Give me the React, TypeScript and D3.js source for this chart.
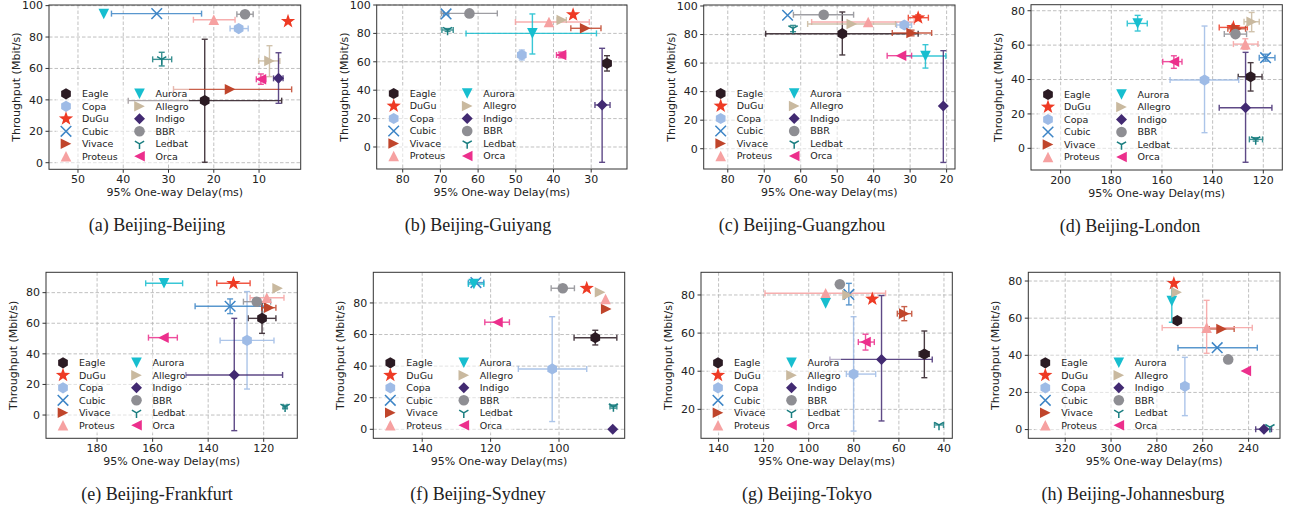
import React from 'react';
import * as d3 from 'd3';

// row: delay, throughput, delayLo, delayHi, tputLo, tputHi
type Row = [number, number, number, number, number, number];

const algorithms = ['Eagle', 'DuGu', 'Copa', 'Cubic', 'Vivace', 'Proteus', 'Aurora', 'Allegro', 'Indigo', 'BBR', 'Ledbat', 'Orca'];
const colors = ['#2b1b23', '#ee3a24', '#9ebbe6', '#3d85c6', '#c0452b', '#f6a1a1', '#17becf', '#c9b99f', '#422a72', '#8e8e93', '#1a7e80', '#ec2f8c'];
const shapes = ['hexagon', 'star', 'hexagon', 'x', 'right', 'up', 'down', 'right', 'diamond', 'circle', 'tri', 'left'];

const legendOrderA = ['Eagle', 'Copa', 'DuGu', 'Cubic', 'Vivace', 'Proteus', 'Aurora', 'Allegro', 'Indigo', 'BBR', 'Ledbat', 'Orca'];
const legendOrder = ['Eagle', 'DuGu', 'Copa', 'Cubic', 'Vivace', 'Proteus', 'Aurora', 'Allegro', 'Indigo', 'BBR', 'Ledbat', 'Orca'];

const beijingBeijing: Row[] = [
  [22, 39.5, 5, 38.9, 0.3, 78.6],
  [3.6, 90, 3.6, 3.6, 90, 90],
  [14.5, 85.4, 12.4, 16.4, 83.6, 87.2],
  [32.6, 94.9, 22.7, 42.6, 94.9, 94.9],
  [16.4, 46.7, 2.8, 28.9, 46.7, 46.7],
  [20, 91, 15.3, 24.5, 91, 91],
  [44.3, 94.7, 44.3, 44.3, 94.7, 94.7],
  [7.7, 64.8, 5.4, 10.1, 54.8, 74.5],
  [5.7, 53.7, 4.7, 6.8, 37.8, 70],
  [13.1, 94.5, 11.3, 14.9, 94.5, 94.5],
  [31.5, 65.8, 29.3, 33.5, 61.6, 70.3],
  [9.6, 53.1, 8.5, 10.6, 49.9, 56.5],
];
const beijingGuiyang: Row[] = [
  [25.8, 58.9, 24.8, 26.8, 53.5, 64.3],
  [34.8, 93.2, 34.8, 34.8, 93.2, 93.2],
  [48.4, 64.8, 47.6, 49.2, 61.3, 68.3],
  [68.5, 93.7, 67.8, 69.2, 93.7, 93.7],
  [31.6, 83.6, 27.4, 35.4, 83.6, 83.6],
  [41.2, 88, 30.5, 50.1, 88, 88],
  [45.6, 80, 28.6, 63.2, 65.5, 93.7],
  [37.8, 89.4, 36.6, 39, 89.4, 89.4],
  [27.1, 29.6, 25, 29, -10.8, 69.5],
  [62.3, 94.1, 54.9, 69.7, 94.1, 94.1],
  [68.1, 82.4, 66.6, 69.6, 81.4, 83.4],
  [38, 64.8, 36.8, 39.2, 62.8, 66.8],
];
const beijingGuangzhou: Row[] = [
  [48.6, 80.6, 27.8, 69.6, 65.7, 95.8],
  [27.8, 91.8, 25, 30.5, 89.8, 93.8],
  [31.6, 86.7, 29.6, 33.7, 86.7, 86.7],
  [63.6, 93.5, 63.6, 63.6, 93.5, 93.5],
  [29.6, 81.1, 24.1, 34.9, 79.1, 83.1],
  [41.5, 88.8, 28.9, 57, 88.8, 88.8],
  [25.8, 65, 20.2, 31.4, 56.5, 72.9],
  [46, 87.4, 34, 58.1, 87.4, 87.4],
  [20.9, 29.9, 20.9, 20.9, -9.6, 68.7],
  [53.7, 93.9, 45.5, 62, 93.9, 93.9],
  [62.1, 84.3, 62.1, 62.1, 82, 86.4],
  [32.5, 65.2, 29.6, 36.3, 65.2, 65.2],
];
const beijingLondon: Row[] = [
  [125, 41.6, 120.5, 129.9, 33.3, 49.8],
  [131.8, 70.3, 126.3, 137.4, 70.3, 70.3],
  [143.2, 39.7, 129.7, 156.8, 9.1, 71.1],
  [119.1, 52.7, 115.4, 121.6, 50.7, 54.7],
  [130.5, 69.5, 127, 134, 68, 71],
  [127.1, 60.6, 122.1, 131.8, 57.5, 63.7],
  [169.6, 72.6, 165.8, 173.7, 68.2, 77.3],
  [124.6, 73.6, 121.6, 127.6, 67.8, 79],
  [127, 23.6, 116.6, 137.4, -8.1, 55.8],
  [131, 66.4, 126.6, 135.4, 66.4, 66.4],
  [123, 5.2, 120.3, 125.5, 4.2, 6.2],
  [155.3, 50.4, 152.1, 159.7, 46.5, 53.8],
];
const beijingFrankfurt: Row[] = [
  [120.6, 63.2, 115.6, 125.6, 53.4, 73.5],
  [130.9, 86.1, 124.9, 136.9, 86.1, 86.1],
  [126, 48.8, 116.3, 135.7, 17, 80.7],
  [132.1, 71.1, 119.5, 144.7, 66.3, 75.9],
  [118, 70.2, 115.6, 120.7, 70.2, 70.2],
  [118.9, 76.7, 112.7, 124.9, 76.7, 76.7],
  [155.9, 86.1, 149.2, 162.5, 86.1, 86.1],
  [115, 82.8, 115, 115, 82.8, 82.8],
  [130.6, 26.2, 113.2, 148.1, -10.2, 63.2],
  [122.5, 74.1, 117.5, 127.3, 74.1, 74.1],
  [112.3, 5.4, 111.6, 113, 4.4, 6.4],
  [156.1, 50.6, 151.1, 161.5, 50.6, 50.6],
];
const beijingSydney: Row[] = [
  [89.4, 58, 83.1, 95.6, 53.4, 62.7],
  [91.9, 89.3, 91.9, 91.9, 89.3, 89.3],
  [102, 38.2, 91.9, 111.9, 4.9, 71.3],
  [124.3, 92.9, 122, 126.5, 92.9, 92.9],
  [86.2, 76.2, 86.2, 86.2, 76.2, 76.2],
  [86.4, 82.5, 86.4, 86.4, 82.5, 82.5],
  [124.9, 92, 122, 126.5, 92, 92],
  [88, 86.8, 88, 88, 86.8, 86.8],
  [84.3, 0, 84.3, 84.3, 0, 0],
  [98.9, 89.3, 95.5, 102.3, 89.3, 89.3],
  [84.1, 14.4, 83.1, 85.1, 13.4, 15.4],
  [118, 67.8, 114.5, 121.7, 67.8, 67.8],
];
const beijingTokyo: Row[] = [
  [48.7, 49, 46.5, 51, 36.6, 61.1],
  [71.8, 77.9, 71.8, 71.8, 77.9, 77.9],
  [80.1, 38.5, 70.3, 83.3, 8.6, 68.6],
  [82.2, 80.3, 82.2, 82.2, 74.8, 86.1],
  [57.6, 70.2, 54.3, 60.7, 66.5, 73.9],
  [92.5, 80.9, 65.9, 119.4, 80.9, 80.9],
  [92.5, 75.6, 92.5, 92.5, 75.6, 75.6],
  [82.8, 80, 82.8, 82.8, 80, 80],
  [67.7, 46.2, 45.2, 90.6, 13.9, 79.7],
  [86.2, 85.6, 86.2, 86.2, 85.6, 85.6],
  [42.2, 11.8, 40.2, 44.2, 11.8, 11.8],
  [74.8, 55.3, 70.9, 78, 51.1, 59.4],
];
const beijingJohannesburg: Row[] = [
  [271.1, 58.7, 271.1, 271.1, 58.7, 58.7],
  [272.6, 78.7, 272.6, 272.6, 78.7, 78.7],
  [267.8, 23.3, 267.8, 267.8, 7.5, 38.9],
  [253.7, 44.1, 236.2, 270.8, 44.1, 44.1],
  [251.8, 54.2, 246.3, 257.2, 54.2, 54.2],
  [258.3, 54.9, 238.4, 277.7, 41.1, 69.6],
  [273.5, 69.2, 273.5, 273.5, 57.8, 79.6],
  [271.4, 73.9, 271.4, 271.4, 73.9, 73.9],
  [233.3, 0.2, 230, 236.9, 0.2, 0.2],
  [248.9, 37.8, 248.9, 248.9, 37.8, 37.8],
  [230.7, 1.3, 230.7, 230.7, 1.3, 1.3],
  [241.2, 31.6, 241.2, 241.2, 31.6, 31.6],
];

const xTicksA = [50, 40, 30, 20, 10];
const xTicksB = [80, 70, 60, 50, 40, 30];
const xTicksC = [80, 70, 60, 50, 40, 30, 20];
const xTicksD = [200, 180, 160, 140, 120];
const xTicksE = [180, 160, 140, 120];
const xTicksF = [140, 120, 100];
const xTicksG = [140, 120, 100, 80, 60, 40];
const xTicksH = [320, 300, 280, 260, 240];
const yTicks100 = [0, 20, 40, 60, 80, 100];
const yTicks80 = [0, 20, 40, 60, 80];
const yTicksTokyo = [20, 40, 60, 80];

interface Panel {
  caption: string;
  rows: Row[];
  legend: string[];
  xTicks: number[];
  yTicks: number[];
  xDom: [number, number];
  yDom: [number, number];
  box: [number, number, number, number]; // left, right, top, bottom
  capX: number;
}

const panels: Panel[] = [
  { caption: '(a)  Beijing-Beijing', rows: beijingBeijing, legend: legendOrderA, xTicks: xTicksA, yTicks: yTicks100, xDom: [56.4, 0.8], yDom: [-4.2, 100.4], box: [49, 300.7, 5, 169.3], capX: 157 },
  { caption: '(b)  Beijing-Guiyang', rows: beijingGuiyang, legend: legendOrder, xTicks: xTicksB, yTicks: yTicks100, xDom: [86.9, 20.5], yDom: [-15.5, 100], box: [376.7, 627, 5, 169], capX: 478 },
  { caption: '(c)  Beijing-Guangzhou', rows: beijingGuangzhou, legend: legendOrder, xTicks: xTicksC, yTicks: yTicks100, xDom: [86.6, 17.7], yDom: [-14.2, 100.7], box: [703.7, 955, 5, 169], capX: 802 },
  { caption: '(d)  Beijing-London', rows: beijingLondon, legend: legendOrder, xTicks: xTicksD, yTicks: yTicks80, xDom: [211.7, 112.5], yDom: [-12.6, 83.5], box: [1031, 1282.3, 4.7, 170], capX: 1130 },
  { caption: '(e)  Beijing-Frankfurt', rows: beijingFrankfurt, legend: legendOrder, xTicks: xTicksE, yTicks: yTicks80, xDom: [198.4, 107.9], yDom: [-15.2, 93.3], box: [46, 297.3, 272.3, 438.3], capX: 157 },
  { caption: '(f)  Beijing-Sydney', rows: beijingSydney, legend: legendOrder, xTicks: xTicksF, yTicks: yTicks80, xDom: [154.3, 80.8], yDom: [-5.7, 99.4], box: [373.3, 624.7, 272.3, 438.3], capX: 478 },
  { caption: '(g)  Beijing-Tokyo', rows: beijingTokyo, legend: legendOrder, xTicks: xTicksG, yTicks: yTicksTokyo, xDom: [147.8, 36.3], yDom: [4.8, 91.9], box: [701, 952.3, 272.3, 438.3], capX: 807 },
  { caption: '(h)  Beijing-Johannesburg', rows: beijingJohannesburg, legend: legendOrder, xTicks: xTicksH, yTicks: yTicks80, xDom: [336.1, 226.3], yDom: [-4.7, 84.7], box: [1028.3, 1280, 272.3, 438.3], capX: 1133 },
];

const SANS = 'DejaVu Sans, sans-serif';
const SERIF = 'Liberation Serif, DejaVu Serif, serif';

const starPath = (r: number) => {
  const pts: string[] = [];
  for (let i = 0; i < 10; i++) {
    const rr = i % 2 === 0 ? r : r * 0.4;
    const a = -Math.PI / 2 + (i * Math.PI) / 5;
    pts.push(`${(rr * Math.cos(a)).toFixed(2)},${(rr * Math.sin(a)).toFixed(2)}`);
  }
  return 'M' + pts.join('L') + 'Z';
};
const polyPath = (n: number, r: number, rot: number) => {
  const pts: string[] = [];
  for (let i = 0; i < n; i++) {
    const a = rot + (i * 2 * Math.PI) / n;
    pts.push(`${(r * Math.cos(a)).toFixed(2)},${(r * Math.sin(a)).toFixed(2)}`);
  }
  return 'M' + pts.join('L') + 'Z';
};

function Marker({ shape, color, x, y }: { shape: string; color: string; x: number; y: number }) {
  const r = 5.3;
  const t = `translate(${x},${y})`;
  if (shape === 'circle') return <circle cx={x} cy={y} r={r} fill={color} />;
  if (shape === 'hexagon') return <path transform={t} d={polyPath(6, r + 0.3, -Math.PI / 2)} fill={color} />;
  if (shape === 'star') return <path transform={t} d={starPath(r + 2.2)} fill={color} />;
  if (shape === 'diamond') return <path transform={t} d={polyPath(4, r + 0.2, 0)} fill={color} />;
  if (shape === 'up') return <path transform={t} d={`M0,${-r}L${r},${r}L${-r},${r}Z`} fill={color} />;
  if (shape === 'down') return <path transform={t} d={`M0,${r}L${r},${-r}L${-r},${-r}Z`} fill={color} />;
  if (shape === 'right') return <path transform={t} d={`M${r},0L${-r},${r}L${-r},${-r}Z`} fill={color} />;
  if (shape === 'left') return <path transform={t} d={`M${-r},0L${r},${r}L${r},${-r}Z`} fill={color} />;
  if (shape === 'x')
    return <path transform={t} d={`M${-r},${-r}L${r},${r}M${-r},${r}L${r},${-r}`} stroke={color} strokeWidth={1.5} fill="none" />;
  // tri_down
  return (
    <path transform={t} d={`M0,0L0,${r}M0,0L${-0.87 * r},${-0.5 * r}M0,0L${0.87 * r},${-0.5 * r}`} stroke={color} strokeWidth={1.5} fill="none" />
  );
}

function Chart({ p, idx }: { p: Panel; idx: number }) {
  const [left, right, top, bottom] = p.box;
  const x = d3.scaleLinear().domain(p.xDom).range([left, right]);
  const y = d3.scaleLinear().domain(p.yDom).range([bottom, top]);
  const clip = `clip${idx}`;
  const cap = 3;
  const legX = left + 17;
  const legRow0 = bottom - 75.5;
  return (
    <g>
      <defs>
        <clipPath id={clip}>
          <rect x={left} y={top} width={right - left} height={bottom - top} />
        </clipPath>
      </defs>
      <rect x={left} y={top} width={right - left} height={bottom - top} fill="#fff" />
      {p.xTicks.map((v) => (
        <line key={'gx' + v} x1={x(v)} x2={x(v)} y1={top} y2={bottom} stroke="#b0b0b0" strokeWidth={0.8} strokeDasharray="3.5,2" />
      ))}
      {p.yTicks.map((v) => (
        <line key={'gy' + v} x1={left} x2={right} y1={y(v)} y2={y(v)} stroke="#b0b0b0" strokeWidth={0.8} strokeDasharray="3.5,2" />
      ))}
      <g clipPath={`url(#${clip})`}>
        {p.rows.map((d, i) => {
          const c = colors[i];
          const [dx, dy, xl, xh, yl, yh] = d;
          return (
            <g key={'e' + i} stroke={c} strokeWidth={1.4} opacity={0.85}>
              {xh - xl > 0.05 && (
                <>
                  <line x1={x(xl)} x2={x(xh)} y1={y(dy)} y2={y(dy)} />
                  <line x1={x(xl)} x2={x(xl)} y1={y(dy) - cap} y2={y(dy) + cap} />
                  <line x1={x(xh)} x2={x(xh)} y1={y(dy) - cap} y2={y(dy) + cap} />
                </>
              )}
              {yh - yl > 0.05 && (
                <>
                  <line x1={x(dx)} x2={x(dx)} y1={y(yl)} y2={y(yh)} />
                  <line x1={x(dx) - cap} x2={x(dx) + cap} y1={y(yl)} y2={y(yl)} />
                  <line x1={x(dx) - cap} x2={x(dx) + cap} y1={y(yh)} y2={y(yh)} />
                </>
              )}
            </g>
          );
        })}
        {p.rows.map((d, i) => (
          <Marker key={'m' + i} shape={shapes[i]} color={colors[i]} x={x(d[0])} y={y(d[1])} />
        ))}
      </g>
      <rect x={left + 7} y={bottom - 83} width={133} height={78} fill="#fff" opacity={0.55} />
      {p.legend.map((name, k) => {
        const i = algorithms.indexOf(name);
        const col = Math.floor(k / 6);
        const row = k % 6;
        const mx = legX + col * 73.5;
        const my = legRow0 + row * 12.5;
        return (
          <g key={'l' + name}>
            <Marker shape={shapes[i]} color={colors[i]} x={mx} y={my} />
            <text x={mx + 16} y={my} dy="0.35em" fontSize={9.5} fontFamily={SANS} fill="#222">
              {name}
            </text>
          </g>
        );
      })}
      <rect x={left} y={top} width={right - left} height={bottom - top} fill="none" stroke="#333" strokeWidth={1} />
      {p.xTicks.map((v) => (
        <g key={'tx' + v}>
          <line x1={x(v)} x2={x(v)} y1={bottom} y2={bottom + 3.5} stroke="#333" />
          <text x={x(v)} y={bottom + 14} textAnchor="middle" fontSize={11} fontFamily={SANS} fill="#222">
            {v}
          </text>
        </g>
      ))}
      {p.yTicks.map((v) => (
        <g key={'ty' + v}>
          <line x1={left - 3.5} x2={left} y1={y(v)} y2={y(v)} stroke="#333" />
          <text x={left - 6} y={y(v)} dy="0.35em" textAnchor="end" fontSize={11} fontFamily={SANS} fill="#222">
            {v}
          </text>
        </g>
      ))}
      <text x={(left + right) / 2} y={bottom + 27} textAnchor="middle" fontSize={11} fontFamily={SANS} fill="#222">
        95% One-way Delay(ms)
      </text>
      <text
        transform={`translate(${left - 33},${(top + bottom) / 2}) rotate(-90)`}
        textAnchor="middle"
        dy="0.35em"
        fontSize={11}
        fontFamily={SANS}
        fill="#222"
      >
        Throughput (Mbit/s)
      </text>
      <text x={p.capX} y={bottom + 62} textAnchor="middle" fontSize={18} fontFamily={SERIF} fill="#222">
        {p.caption}
      </text>
    </g>
  );
}

export default function App() {
  return (
    <svg width={1292} height={514} style={{ position: 'absolute', left: 0, top: 0, background: '#fff' }}>
      <rect width={1292} height={514} fill="#fff" />
      {panels.map((p, i) => (
        <Chart key={i} p={p} idx={i} />
      ))}
    </svg>
  );
}
